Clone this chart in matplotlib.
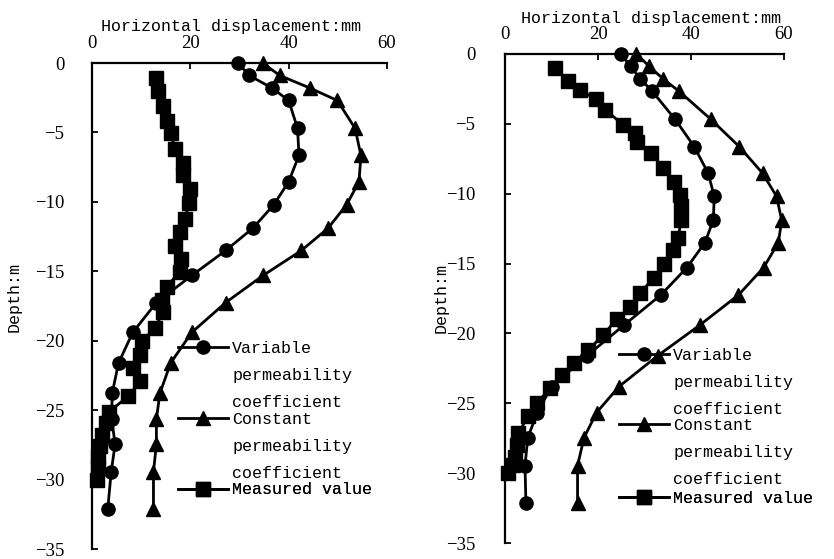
import matplotlib
matplotlib.use("Agg")
import matplotlib.pyplot as plt
from matplotlib.lines import Line2D

# ---------------- data ----------------
depth_model = [0, -0.9, -1.8, -2.7, -4.7, -6.65, -8.55, -10.2, -11.9, -13.5,
               -15.3, -17.25, -19.4, -21.6, -23.8, -25.65, -27.45, -29.45, -32.15]

left_variable = [29.7, 32.0, 36.6, 40.0, 41.8, 42.1, 40.0, 37.0, 32.7, 27.2,
                 20.3, 13.1, 8.3, 5.4, 4.1, 4.0, 4.7, 3.9, 3.2]
left_constant = [34.7, 38.2, 44.3, 49.9, 53.5, 54.7, 54.3, 51.8, 48.0, 42.6,
                 34.8, 27.2, 20.3, 16.0, 13.8, 13.1, 13.1, 12.5, 12.5]
left_meas_depth = [-1.1, -2.0, -3.1, -4.15, -5.06, -6.2, -7.2, -8.05, -9.1, -10.05,
                   -11.2, -12.2, -13.2, -14.1, -15.05, -16.1, -17.05, -17.9, -19.1, -20.05,
                   -21.0, -21.97, -22.9, -24.0, -25.1, -25.9, -26.8, -27.6, -28.3, -29.2, -30.0]
left_meas_x = [13.1, 13.5, 14.4, 15.2, 16.0, 16.9, 18.6, 18.6, 19.9, 19.8,
               18.9, 17.9, 16.9, 18.2, 17.8, 15.2, 14.2, 14.5, 12.8, 10.1,
               9.8, 8.4, 9.8, 7.4, 3.5, 2.8, 2.0, 1.6, 1.3, 1.3, 1.0]

right_variable = [24.9, 27.0, 29.1, 31.7, 36.6, 40.7, 43.7, 45.0, 44.8, 43.0,
                  39.1, 33.5, 25.6, 17.6, 10.0, 6.95, 4.9, 4.3, 4.5]
right_constant = [28.2, 31.0, 34.0, 37.5, 44.3, 50.4, 55.4, 58.4, 59.5, 58.8,
                  55.6, 50.2, 41.9, 32.8, 24.5, 19.7, 17.0, 15.6, 15.6]
right_meas_depth = [-1.05, -1.93, -2.6, -3.26, -4.0, -5.1, -5.7, -6.3, -7.1, -8.2,
                    -9.14, -10.1, -10.9, -11.9, -13.2, -14.0, -15.0, -16.0, -17.1, -18.1,
                    -19.0, -20.1, -21.2, -22.1, -22.95, -23.9, -25.0, -25.9, -27.1, -27.95,
                    -28.8, -29.4, -30.0]
right_meas_x = [10.8, 13.5, 16.1, 19.6, 21.6, 25.4, 27.9, 28.3, 31.5, 34.0,
                36.3, 37.6, 37.9, 37.9, 37.2, 36.1, 34.3, 32.1, 29.0, 26.9,
                24.0, 21.1, 17.9, 14.8, 12.2, 9.7, 6.8, 5.0, 2.9, 2.5,
                2.2, 1.8, 0.7]

x_ticks = [0, 20, 40, 60]
y_ticks = [0, -5, -10, -15, -20, -25, -30, -35]
x_label = "Horizontal displacement:mm"
y_label = "Depth:m"
legend_groups = [["Variable", "permeability", "coefficient"],
                 ["Constant", "permeability", "coefficient"],
                 ["Measured value"]]

# ---------------- style ----------------
MONO = "Liberation Mono"
SERIF = "Liberation Serif"
LW = 2.0
MS = 9.5

fig = plt.figure(figsize=(8.34, 5.59), dpi=100)

panels = [
    dict(rect=[92/834, 10/559, 295/834, 486/559],
         var=left_variable, con=left_constant,
         md=left_meas_depth, mx=left_meas_x,
         ylab=(-0.237, 0.518), xlab=(0.471, 1.066),
         ytpad=20, leg_x=0.2915, leg_y=[0.429, 0.282, 0.137]),
    dict(rect=[505/834, 15.7/559, 279/834, 489.6/559],
         var=right_variable, con=right_constant,
         md=right_meas_depth, mx=right_meas_x,
         ylab=(-0.2007, 0.501), xlab=(0.523, 1.063),
         ytpad=21.5, leg_x=0.4086, leg_y=[0.399, 0.256, 0.1075]),
]

for p in panels:
    ax = fig.add_axes(p["rect"])
    l1, = ax.plot(p["var"], depth_model, color="black", lw=LW, marker="o",
                  ms=MS, clip_on=False)
    l2, = ax.plot(p["con"], depth_model, color="black", lw=LW, marker="^",
                  ms=MS, clip_on=False)
    l3, = ax.plot(p["mx"], p["md"], color="black", lw=LW, marker="s",
                  ms=MS, clip_on=False)
    ax.set_xlim(0, 60)
    ax.set_ylim(-35, 0)
    ax.set_xticks(x_ticks)
    ax.set_yticks(y_ticks)
    ax.xaxis.tick_top()
    ax.xaxis.set_label_position("top")
    for s in ("right", "bottom"):
        ax.spines[s].set_visible(False)
    for s in ("top", "left"):
        ax.spines[s].set_linewidth(1.6)
    ax.tick_params(axis="both", direction="in", length=4, width=1.3,
                   labelsize=13.5, labelfontfamily=SERIF)
    ax.tick_params(axis="x", pad=8)
    ax.tick_params(axis="y", pad=p["ytpad"])
    ax.set_xlabel(x_label, fontsize=12, family=MONO)
    ax.set_ylabel(y_label, fontsize=12, family=MONO)
    ax.xaxis.set_label_coords(*p["xlab"])
    ax.yaxis.set_label_coords(*p["ylab"])

    blank = Line2D([], [], linestyle="none")
    for handle, labels, ly in zip([l1, l2, l3], legend_groups, p["leg_y"]):
        handles = [handle] + [blank] * (len(labels) - 1)
        leg = ax.legend(handles, labels, loc="upper left",
                        bbox_to_anchor=(p["leg_x"], ly),
                        frameon=False, borderpad=0, borderaxespad=0,
                        handlelength=3.0, handletextpad=0.25,
                        labelspacing=0.72, numpoints=1,
                        prop=dict(family=MONO, size=12))
        ax.add_artist(leg)

fig.savefig("out.png", dpi=100)
